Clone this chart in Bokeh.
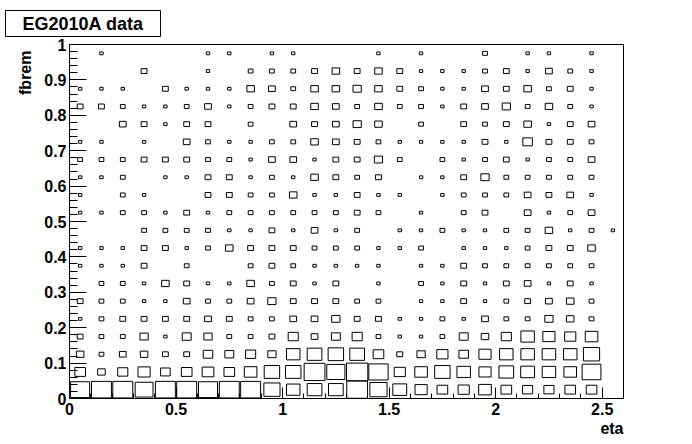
import numpy as np
from bokeh.plotting import figure
from bokeh.models import ColumnDataSource, Range1d, FixedTicker, Title
from bokeh.embed import file_html
from bokeh.resources import INLINE

# bin centres
eta_centers = [0.05, 0.15, 0.25, 0.35, 0.45, 0.55, 0.65, 0.75, 0.85, 0.95,
               1.05, 1.15, 1.25, 1.35, 1.45, 1.55, 1.65, 1.75, 1.85, 1.95,
               2.05, 2.15, 2.25, 2.35, 2.45, 2.55]
fbrem_centers = [0.025, 0.075, 0.125, 0.175, 0.225, 0.275, 0.325, 0.375, 0.425, 0.475,
                 0.525, 0.575, 0.625, 0.675, 0.725, 0.775, 0.825, 0.875, 0.925, 0.975]
eta_bin_width = 0.1
fbrem_bin_width = 0.05

# counts per fbrem row (row 0 = lowest fbrem bin), 26 eta bins each
row00 = [32, 35, 35, 28, 35, 35, 32, 35, 35, 23, 16, 19, 19, 38, 26, 17, 13, 10, 11, 14, 10, 9, 9, 10, 10, 0]
row01 = [10, 5, 9, 13, 8, 10, 12, 10, 14, 21, 21, 38, 29, 40, 33, 11, 14, 21, 16, 13, 19, 17, 16, 14, 31, 0]
row02 = [5, 2, 4, 5, 3, 3, 8, 7, 9, 6, 16, 19, 21, 19, 10, 3, 6, 11, 8, 13, 16, 16, 16, 16, 23, 0]
row03 = [3, 2, 2, 6, 1, 7, 6, 2, 2, 3, 9, 4, 7, 9, 2, 1, 1, 2, 7, 5, 9, 16, 13, 11, 14, 0]
row04 = [1, 2, 3, 3, 3, 3, 4, 3, 2, 2, 4, 4, 6, 3, 3, 1, 1, 2, 1, 4, 2, 2, 6, 5, 2, 0]
row05 = [3, 2, 2, 1, 1, 4, 2, 2, 4, 6, 3, 3, 3, 2, 2, 0, 1, 1, 3, 1, 2, 3, 4, 5, 2, 0]
row06 = [0, 2, 2, 1, 5, 3, 1, 1, 5, 2, 3, 1, 3, 0, 1, 0, 2, 1, 3, 1, 3, 4, 1, 3, 1, 0]
row07 = [1, 1, 1, 3, 0, 2, 0, 0, 2, 3, 2, 1, 1, 1, 1, 0, 1, 1, 3, 2, 2, 2, 2, 2, 2, 0]
row08 = [1, 1, 1, 3, 3, 1, 2, 5, 3, 3, 3, 2, 2, 2, 1, 1, 2, 0, 1, 1, 1, 2, 3, 3, 5, 0]
row09 = [0, 0, 0, 2, 2, 2, 2, 1, 1, 3, 1, 4, 1, 2, 0, 1, 1, 2, 1, 1, 2, 2, 5, 1, 2, 1]
row10 = [1, 1, 2, 2, 1, 3, 1, 2, 2, 2, 2, 2, 2, 3, 2, 0, 1, 0, 2, 3, 0, 4, 1, 2, 4, 0]
row11 = [1, 0, 2, 1, 0, 0, 3, 3, 2, 2, 5, 1, 1, 3, 1, 1, 0, 1, 2, 2, 2, 4, 3, 4, 1, 0]
row12 = [1, 1, 2, 0, 1, 1, 3, 3, 1, 2, 1, 5, 3, 2, 3, 0, 1, 1, 3, 6, 2, 2, 2, 2, 2, 0]
row13 = [2, 2, 2, 3, 3, 3, 2, 2, 1, 4, 4, 1, 3, 3, 6, 2, 0, 2, 1, 2, 3, 1, 2, 2, 4, 0]
row14 = [1, 1, 0, 1, 0, 4, 2, 1, 1, 2, 2, 5, 4, 3, 2, 1, 1, 1, 1, 3, 1, 8, 3, 3, 2, 0]
row15 = [0, 0, 4, 3, 1, 3, 3, 0, 2, 0, 4, 3, 4, 6, 5, 0, 2, 0, 3, 2, 3, 5, 1, 3, 4, 0]
row16 = [3, 3, 2, 1, 1, 2, 4, 1, 2, 3, 3, 5, 4, 2, 5, 2, 2, 1, 3, 4, 6, 2, 5, 2, 1, 0]
row17 = [1, 1, 1, 0, 3, 1, 1, 1, 5, 4, 2, 5, 5, 6, 5, 3, 2, 1, 1, 4, 3, 5, 2, 3, 1, 0]
row18 = [0, 0, 0, 3, 0, 0, 1, 0, 2, 2, 2, 3, 5, 3, 5, 3, 1, 1, 1, 2, 3, 1, 4, 2, 1, 0]
row19 = [0, 1, 0, 0, 0, 0, 1, 1, 0, 1, 1, 0, 0, 0, 1, 0, 1, 0, 0, 2, 0, 1, 1, 0, 1, 0]

rows = [row00, row01, row02, row03, row04, row05, row06, row07, row08, row09,
        row10, row11, row12, row13, row14, row15, row16, row17, row18, row19]

x_ticks = [0, 0.5, 1, 1.5, 2, 2.5]
x_labels = ["0", "0.5", "1", "1.5", "2", "2.5"]
y_ticks = [0, 0.1, 0.2, 0.3, 0.4, 0.5, 0.6, 0.7, 0.8, 0.9, 1]
y_labels = ["0", "0.1", "0.2", "0.3", "0.4", "0.5", "0.6", "0.7", "0.8", "0.9", "1"]

title_text = "EG2010A data"
x_title = "eta"
y_title = "fbrem"

# ---- build boxes (ROOT "BOX": area proportional to content) ----
cmax = max(max(r) for r in rows)
xs, ys, ws, hs = [], [], [], []
for j, r in enumerate(rows):
    for i, c in enumerate(r):
        if c > 0:
            f = np.sqrt(c / cmax)
            xs.append(eta_centers[i])
            ys.append(fbrem_centers[j])
            ws.append(eta_bin_width * f)
            hs.append(fbrem_bin_width * f)
src = ColumnDataSource(dict(x=xs, y=ys, w=ws, h=hs))

W, H = 692, 444
L, R, T, B = 69, 69, 44, 46
p = figure(width=W, height=H, output_backend="svg", toolbar_location=None,
           x_range=Range1d(0, 2.6), y_range=Range1d(0, 1),
           min_border_left=L, min_border_right=R, min_border_top=T, min_border_bottom=B)
p.background_fill_color = "white"
p.border_fill_color = "white"
p.outline_line_color = "black"
p.outline_line_width = 1
p.outline_line_alpha = 1
p.grid.visible = False

p.rect(x="x", y="y", width="w", height="h", source=src,
       fill_color=None, line_color="black", line_width=1)

font = "Liberation Sans"
fs = "16px"

x_minor = [round(0.1 * k, 2) for k in range(27)]
y_minor = [round(0.02 * k, 2) for k in range(51)]
p.xaxis.ticker = FixedTicker(ticks=x_ticks, minor_ticks=x_minor)
p.yaxis.ticker = FixedTicker(ticks=y_ticks, minor_ticks=y_minor)
p.xaxis.major_label_overrides = dict(zip(x_ticks, x_labels))
p.yaxis.major_label_overrides = dict(zip(y_ticks, y_labels))

for ax in (p.xaxis[0], p.yaxis[0]):
    ax.axis_line_color = "black"
    ax.major_tick_line_color = "black"
    ax.minor_tick_line_color = "black"
    ax.major_tick_out = 0
    ax.minor_tick_out = 0
    ax.major_label_text_font = font
    ax.major_label_text_font_style = "bold"
    ax.major_label_text_font_size = fs
    ax.major_label_text_color = "black"

p.xaxis.major_tick_in = 11
p.xaxis.minor_tick_in = 5
p.xaxis.major_label_standoff = 4
p.yaxis.major_tick_in = 17
p.yaxis.minor_tick_in = 8
p.yaxis.major_label_standoff = 3

# histogram title in a framed box, top-left
p.title.text = title_text
p.title.align = "left"
p.title.vertical_align = "top"
p.title.offset = -64
p.title.standoff = 12
p.title.text_font = font
p.title.text_font_style = "bold"
p.title.text_font_size = "18px"
p.title.text_color = "black"
p.title.background_fill_color = "white"
p.title.border_line_color = "black"
p.title.border_line_width = 1
p.title.padding = (17, 3)

xt = Title(text=x_title, align="right", offset=0, standoff=0,
           text_font=font, text_font_style="bold", text_font_size=fs, text_color="black")
p.add_layout(xt, "below")

yt = Title(text=y_title, align="right", offset=6, standoff=15,
           text_font=font, text_font_style="bold", text_font_size=fs, text_color="black")
p.add_layout(yt, "left")

open("out.html", "w").write(file_html(p, INLINE))
